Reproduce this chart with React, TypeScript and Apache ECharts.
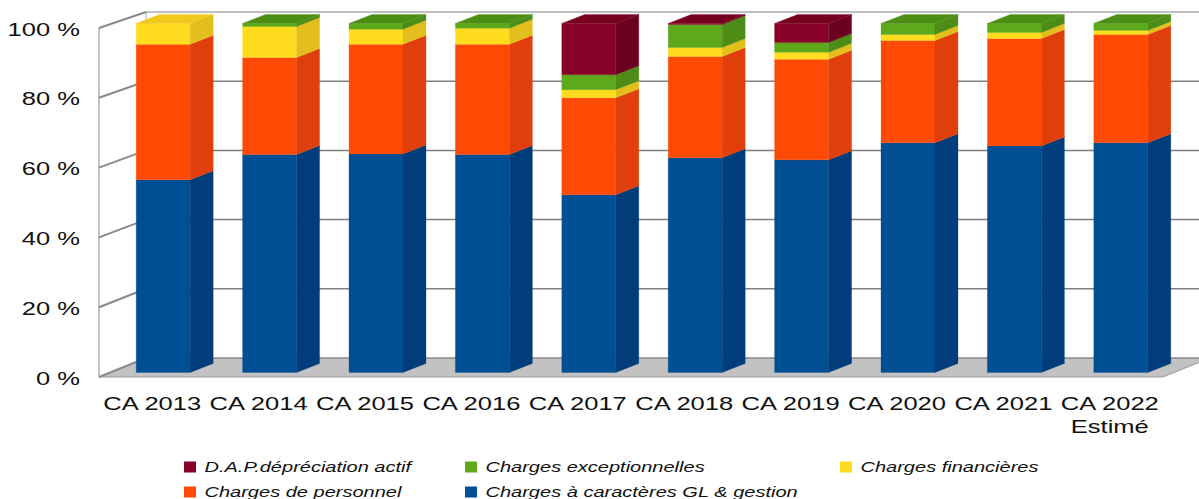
import React, { useEffect, useRef } from "react";
import * as echarts from "echarts";

const categories = ["CA 2013", "CA 2014", "CA 2015", "CA 2016", "CA 2017", "CA 2018", "CA 2019", "CA 2020", "CA 2021", "CA 2022\nEstimé"];
const yTicks = [0, 20, 40, 60, 80, 100];

const gestion = [55.2, 62.4, 62.6, 62.4, 50.9, 61.5, 60.9, 65.8, 64.9, 65.8];
const personnel = [38.8, 27.8, 31.4, 31.6, 27.8, 29.0, 28.8, 29.3, 30.8, 31.0];
const financieres = [6.0, 8.9, 4.3, 4.6, 2.3, 2.6, 2.0, 1.7, 1.7, 1.2];
const exceptionnelles = [0, 0.9, 1.7, 1.4, 4.3, 6.6, 2.8, 3.2, 2.6, 2.0];
const depreciation = [0, 0, 0, 0, 14.7, 0.3, 5.5, 0, 0, 0];

const seriesNames = ["Charges à caractères GL & gestion", "Charges de personnel", "Charges financières", "Charges exceptionnelles", "D.A.P.dépréciation actif"];
const seriesValues = [gestion, personnel, financieres, exceptionnelles, depreciation];
const frontColors = ["#004f94", "#ff4a06", "#ffdd1e", "#5ea81c", "#870027"];
const sideColors = ["#003d7a", "#e03e0a", "#e3bf1e", "#4e8c18", "#6c0020"];
const topColors = ["#00458a", "#e8440a", "#f2c81c", "#4c8f14", "#78001f"];

const legendRows = [
  { name: "D.A.P.dépréciation actif", color: 4, x: 184, y: 467 },
  { name: "Charges exceptionnelles", color: 3, x: 465, y: 467 },
  { name: "Charges financières", color: 2, x: 840, y: 467 },
  { name: "Charges de personnel", color: 1, x: 184, y: 492 },
  { name: "Charges à caractères GL & gestion", color: 0, x: 465, y: 492 },
];

const FONT = '"Liberation Sans", Arial, sans-serif';
const STRETCH = 1.42;
const DEPTH_X = 47;
const DEPTH_Y = -19;
const BACK_SHRINK = 0.03;
const BAR_LEFT = -16;
const BAR_WIDTH = 54;
const BAR_DROP = -4.6;
const SIDE_X = 23;
const SIDE_Y = -9;

function floorItem(params: any, api: any) {
  const band = api.size([1, 0])[0];
  const origin = api.coord([0, 0]);
  const left = origin[0] - band / 2;
  const right = left + band * categories.length;
  const y = origin[1];
  return {
    type: "polygon",
    shape: { points: [[left, y], [left + DEPTH_X, y + DEPTH_Y], [right + DEPTH_X, y + DEPTH_Y], [right, y]] },
    style: { fill: "#c2c2c2", stroke: "#9a9a9a", lineWidth: 1 },
  };
}

function wallItem(params: any, api: any) {
  const band = api.size([1, 0])[0];
  const v = api.value(0);
  const p = api.coord([0, v]);
  const left = p[0] - band / 2;
  const right = left + band * categories.length;
  const backY = p[1] + DEPTH_Y + BACK_SHRINK * v;
  const line = (x1: number, y1: number, x2: number, y2: number, w: number, c: string) => ({
    type: "line",
    shape: { x1, y1, x2, y2 },
    style: { stroke: c, lineWidth: w },
  });
  return {
    type: "group",
    children: [
      line(left, p[1], left + DEPTH_X, backY, 2, "#8a8a8a"),
      line(left + DEPTH_X, backY, right + DEPTH_X, backY, v === 0 || v === 100 ? 1 : 1.5, "#808080"),
    ],
  };
}

function wallEdges(params: any, api: any) {
  const band = api.size([1, 0])[0];
  const low = api.coord([0, 0]);
  const high = api.coord([0, 100]);
  const left = low[0] - band / 2;
  return {
    type: "group",
    children: [
      { type: "line", shape: { x1: left, y1: low[1], x2: left, y2: high[1] }, style: { stroke: "#8a8a8a", lineWidth: 1 } },
      { type: "line", shape: { x1: left + DEPTH_X, y1: low[1] + DEPTH_Y, x2: left + DEPTH_X, y2: high[1] + DEPTH_Y + BACK_SHRINK * 100 }, style: { stroke: "#b0b0b0", lineWidth: 1 } },
    ],
  };
}

function barItem(colorIndex: number) {
  return (params: any, api: any) => {
    const start = api.coord([api.value(0), api.value(1)]);
    const end = api.coord([api.value(0), api.value(2)]);
    const isTop = api.value(3) === 1;
    if (api.value(2) <= api.value(1)) return { type: "group", children: [] };
    const xL = start[0] + BAR_LEFT;
    const xR = xL + BAR_WIDTH;
    const yB = start[1] + BAR_DROP;
    const yT = end[1] + BAR_DROP;
    const poly = (points: number[][], fill: string) => ({
      type: "polygon",
      shape: { points },
      style: { fill, stroke: fill, lineWidth: 0.3 },
    });
    const children: any[] = [
      poly([[xL, yB], [xR, yB], [xR, yT], [xL, yT]], frontColors[colorIndex]),
      poly([[xR, yB], [xR + SIDE_X, yB + SIDE_Y], [xR + SIDE_X, yT + SIDE_Y], [xR, yT]], sideColors[colorIndex]),
    ];
    if (isTop) {
      children.push(poly([[xL, yT], [xR, yT], [xR + SIDE_X, yT + SIDE_Y], [xL + SIDE_X, yT + SIDE_Y]], topColors[colorIndex]));
    }
    return { type: "group", children };
  };
}

function xLabelItem(params: any, api: any) {
  const p = api.coord([api.value(0), 0]);
  return {
    type: "text",
    x: p[0],
    y: p[1] + 15,
    scaleX: STRETCH,
    style: { text: categories[api.value(0)], align: "center", verticalAlign: "top", font: `18px ${FONT}`, lineHeight: 23, fill: "#111" },
  };
}

function yLabelItem(params: any, api: any) {
  const p = api.coord([0, api.value(0)]);
  const band = api.size([1, 0])[0];
  return {
    type: "text",
    x: p[0] - band / 2 - 19,
    y: p[1] + 1.5,
    scaleX: STRETCH,
    style: { text: `${api.value(0)} %`, align: "right", verticalAlign: "middle", font: `18px ${FONT}`, fill: "#111" },
  };
}

function buildOption() {
  const bars = seriesValues.map((values, s) => ({
    type: "custom",
    name: seriesNames[s],
    renderItem: barItem(s),
    clip: false,
    data: values.map((v, i) => {
      const below = seriesValues.slice(0, s).reduce((sum, arr) => sum + arr[i], 0);
      const above = seriesValues.slice(s + 1).reduce((sum, arr) => sum + arr[i], 0);
      return [i, below, below + v, above === 0 ? 1 : 0];
    }),
  }));
  return {
    animation: false,
    tooltip: { show: false },
    grid: { left: 99, top: 28, width: 1064, height: 349 },
    xAxis: { type: "category", data: categories, axisLine: { show: false }, axisTick: { show: false }, axisLabel: { show: false }, splitLine: { show: false } },
    yAxis: { type: "value", min: 0, max: 100, interval: 20, axisLine: { show: false }, axisTick: { show: false }, axisLabel: { show: false }, splitLine: { show: false } },
    graphic: legendRows.flatMap((row) => [
      { type: "rect", left: row.x, top: row.y - 5.5, shape: { width: 12, height: 11 }, style: { fill: frontColors[row.color] } },
      {
        type: "text",
        x: row.x + 20.5,
        y: row.y,
        scaleX: STRETCH + 0.01,
        style: { text: row.name, font: `italic 14px ${FONT}`, verticalAlign: "middle", align: "left", fill: "#111" },
      },
    ]),
    series: [
      { type: "custom", renderItem: floorItem, data: [[0]], clip: false, silent: true },
      { type: "custom", renderItem: wallEdges, data: [[0]], clip: false, silent: true },
      { type: "custom", renderItem: wallItem, data: yTicks.map((t) => [t]), encode: { y: 0 }, clip: false, silent: true },
      ...bars,
      { type: "custom", renderItem: xLabelItem, data: categories.map((_, i) => [i]), encode: { x: 0 }, clip: false, silent: true },
      { type: "custom", renderItem: yLabelItem, data: yTicks.map((t) => [t]), encode: { y: 0 }, clip: false, silent: true },
    ],
  };
}

export default function App() {
  const ref = useRef<HTMLDivElement>(null);
  useEffect(() => {
    document.body.style.margin = "0";
    const chart = echarts.init(ref.current!, undefined, { renderer: "svg" });
    chart.setOption(buildOption() as any);
    return () => chart.dispose();
  }, []);
  return <div ref={ref} style={{ width: 1199, height: 499, background: "#fff", overflow: "hidden" }} />;
}
